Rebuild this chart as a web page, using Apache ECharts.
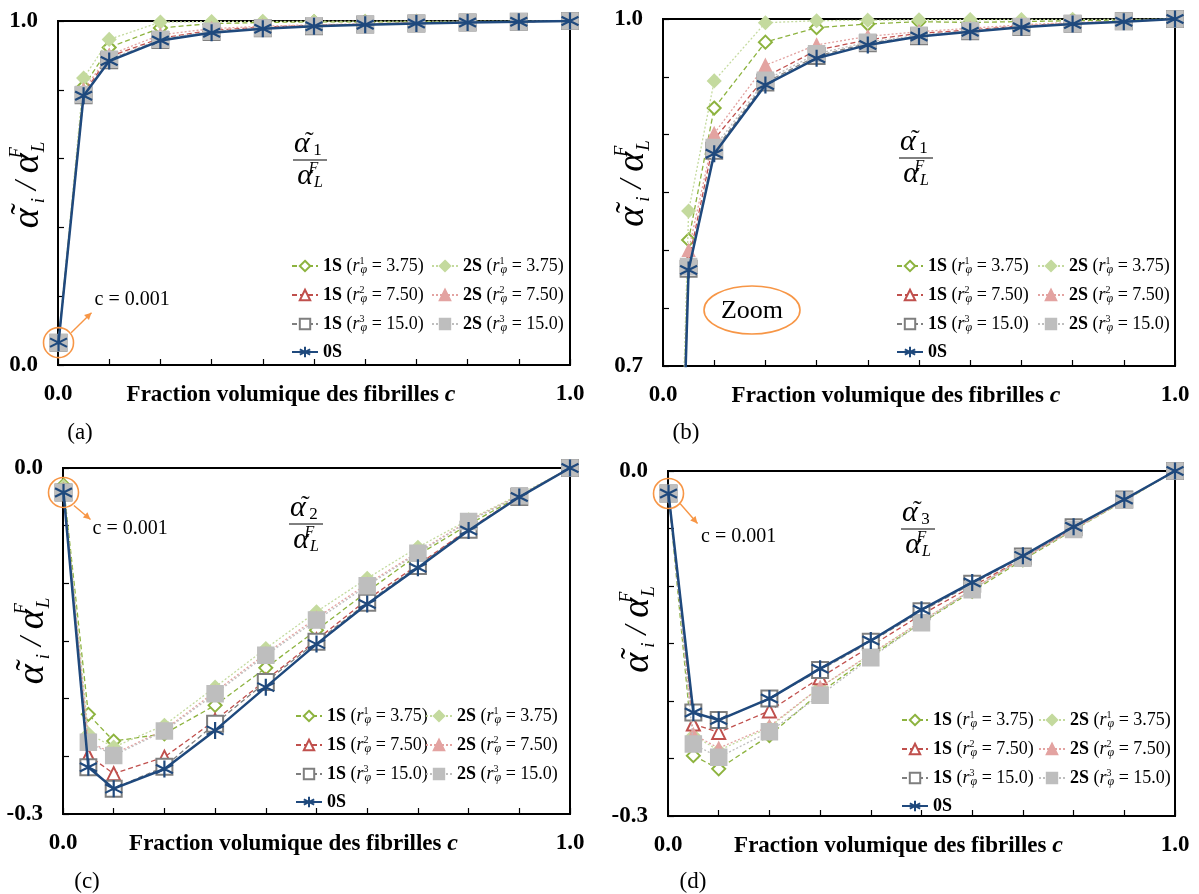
<!DOCTYPE html>
<html><head><meta charset="utf-8">
<script src="https://cdn.jsdelivr.net/npm/echarts@6/dist/echarts.min.js"></script>
<style>html,body{margin:0;padding:0;background:#fff}#c{width:1199px;height:894px}</style>
</head><body><div id="c"></div><script>
// ---------- data ----------
const cValues = [0.001, 0.05, 0.1, 0.2, 0.3, 0.4, 0.5, 0.6, 0.7, 0.8, 0.9, 1.0];
const seriesNames = ['1S r1', '2S r1', '1S r2', '2S r2', '1S r3', '2S r3', '0S'];
const legendLabels = [
  '{b|1S}{n| (}{i|r}{p|1}{s|φ}{n| = 3.75)}',
  '{b|2S}{n| (}{i|r}{p|1}{s|φ}{n| = 3.75)}',
  '{b|1S}{n| (}{i|r}{p|2}{s|φ}{n| = 7.50)}',
  '{b|2S}{n| (}{i|r}{p|2}{s|φ}{n| = 7.50)}',
  '{b|1S}{n| (}{i|r}{p|3}{s|φ}{n| = 15.0)}',
  '{b|2S}{n| (}{i|r}{p|3}{s|φ}{n| = 15.0)}',
  '{b|0S}'
];
const panelLetters = ['(a)', '(b)', '(c)', '(d)'];
const xTitle = 'Fraction volumique des fibrilles ';
const cAnnot = 'c = 0.001';

// alpha1 / alpha_L^F  (panels a and b)
const a1_1S_r1 = [0.068, 0.809, 0.923, 0.980, 0.9925, 0.9957, 0.9977, 0.9970, 0.9978, 0.9985, 0.9992, 1.0];
const a1_2S_r1 = [0.070, 0.834, 0.9465, 0.9968, 0.9985, 0.9990, 0.9993, 0.9995, 0.9996, 0.9997, 0.9998, 1.0];
const a1_1S_r2 = [0.066, 0.790, 0.896, 0.950, 0.973, 0.982, 0.9876, 0.9905, 0.994, 0.9963, 0.9978, 1.0];
const a1_2S_r2 = [0.067, 0.800, 0.901, 0.960, 0.9776, 0.985, 0.989, 0.992, 0.995, 0.997, 0.998, 1.0];
const a1_1S_r3 = [0.065, 0.784, 0.886, 0.945, 0.968, 0.979, 0.985, 0.9895, 0.993, 0.996, 0.998, 1.0];
const a1_2S_r3 = [0.065, 0.786, 0.889, 0.947, 0.970, 0.980, 0.986, 0.990, 0.9935, 0.996, 0.998, 1.0];
const a1_0S    = [0.065, 0.783, 0.8835, 0.943, 0.966, 0.9776, 0.9848, 0.989, 0.9928, 0.9957, 0.9977, 1.0];

// alpha2 / alpha_L^F  (panel c)
const a2_1S_r1 = [-0.015, -0.2136, -0.2368, -0.2304, -0.2058, -0.1733, -0.1406, -0.1072, -0.0754, -0.049, -0.0246, 0];
const a2_2S_r1 = [-0.016, -0.2304, -0.242, -0.223, -0.190, -0.1565, -0.1246, -0.0957, -0.0687, -0.0449, -0.0232, 0];
const a2_1S_r2 = [-0.020, -0.2493, -0.265, -0.2507, -0.2188, -0.184, -0.149, -0.114, -0.084, -0.053, -0.025, 0];
const a2_2S_r2 = [-0.019, -0.237, -0.248, -0.227, -0.194, -0.161, -0.130, -0.1005, -0.073, -0.0458, -0.0238, 0];
const a2_1S_r3 = [-0.0212, -0.2594, -0.278, -0.259, -0.2217, -0.1855, -0.1507, -0.1168, -0.085, -0.0536, -0.0252, 0];
const a2_2S_r3 = [-0.021, -0.2377, -0.2493, -0.228, -0.1957, -0.1623, -0.1319, -0.102, -0.0739, -0.0464, -0.0241, 0];
const a2_0S    = [-0.0212, -0.2594, -0.278, -0.261, -0.2275, -0.190, -0.1527, -0.118, -0.0864, -0.0542, -0.0252, 0];

// alpha3 / alpha_L^F  (panel d)
const a3_1S_r1 = [-0.0196, -0.2475, -0.259, -0.230, -0.1927, -0.161, -0.132, -0.1047, -0.0773, -0.0513, -0.026, 0];
const a3_2S_r1 = [-0.0196, -0.230, -0.243, -0.223, -0.188, -0.1595, -0.1307, -0.103, -0.0759, -0.0508, -0.0254, 0];
const a3_1S_r2 = [-0.0196, -0.220, -0.2273, -0.2086, -0.1797, -0.1523, -0.1249, -0.1004, -0.0759, -0.0499, -0.0254, 0];
const a3_2S_r2 = [-0.0196, -0.229, -0.241, -0.222, -0.188, -0.159, -0.1305, -0.103, -0.0759, -0.0508, -0.0254, 0];
const a3_1S_r3 = [-0.0196, -0.210, -0.2166, -0.1979, -0.173, -0.1485, -0.122, -0.098, -0.0744, -0.049, -0.0248, 0];
const a3_2S_r3 = [-0.0196, -0.2374, -0.249, -0.2267, -0.195, -0.1624, -0.132, -0.1033, -0.0759, -0.0508, -0.0254, 0];
const a3_0S    = [-0.0196, -0.210, -0.2166, -0.1979, -0.1719, -0.1474, -0.1206, -0.0969, -0.0738, -0.0485, -0.0248, 0];

// y-axis ranges per panel
const yMin = [0, 0.7, -0.3, -0.3];
const yMax = [1, 1, 0, 0];
const yStep = [0.2, 0.05, 0.05, 0.05];
const fracIndex = ['1', '1', '2', '3'];

const panelData = [
  [a1_1S_r1, a1_2S_r1, a1_1S_r2, a1_2S_r2, a1_1S_r3, a1_2S_r3, a1_0S],
  [a1_1S_r1, a1_2S_r1, a1_1S_r2, a1_2S_r2, a1_1S_r3, a1_2S_r3, a1_0S],
  [a2_1S_r1, a2_2S_r1, a2_1S_r2, a2_2S_r2, a2_1S_r3, a2_2S_r3, a2_0S],
  [a3_1S_r1, a3_2S_r1, a3_1S_r2, a3_2S_r2, a3_1S_r3, a3_2S_r3, a3_0S]
];

// ---------- styles / layout ----------
const SERIF = '"Liberation Serif", "Times New Roman", serif';
const grids = [
  {left: 58, top: 21, width: 512, height: 344},
  {left: 663, top: 19, width: 512, height: 347},
  {left: 63, top: 468, width: 507, height: 346},
  {left: 668, top: 471, width: 507, height: 345}
];
const yNameShift = [22, 24, 6, 34];
const ASTER = 'path://M10,0L10,20M1.34,5L18.66,15M1.34,15L18.66,5';
const sStyles = [
  {symbol: 'emptyDiamond', size: 13, color: '#8DB33F', type: [5, 3], width: 1.3},
  {symbol: 'diamond', size: 13, color: '#C4DA9E', type: [2, 2], width: 1.3},
  {symbol: 'emptyTriangle', size: 13, color: '#C0504D', type: [5, 3], width: 1.3},
  {symbol: 'triangle', size: 12, color: '#E3A3A1', type: [2, 2], width: 1.3},
  {symbol: 'emptyRect', size: 16, color: '#7F7F7F', type: [5, 3], width: 1.3},
  {symbol: 'rect', size: 16, color: '#BEBEBE', type: [2, 2], width: 1.3},
  {symbol: ASTER, size: 17, color: '#1F497D', type: 'solid', width: 2.5}
];

const isNear = (a, b) => Math.abs(a - b) < 1e-9;
const fmt1 = v => (Math.abs(v) < 1e-9 ? '0.0' : v.toFixed(1));

const yNameRich = {
  aw: {fontFamily: SERIF, fontStyle: 'italic', fontSize: 38, color: '#000', lineHeight: 40, width: 8},
  t: {fontFamily: SERIF, fontSize: 34, color: '#000', lineHeight: 34, verticalAlign: 'top', width: 11},
  a: {fontFamily: SERIF, fontStyle: 'italic', fontSize: 38, color: '#000', lineHeight: 40},
  n: {fontFamily: SERIF, fontStyle: 'italic', fontSize: 32, color: '#000', lineHeight: 40},
  s: {fontFamily: SERIF, fontStyle: 'italic', fontSize: 19, color: '#000', lineHeight: 19, verticalAlign: 'bottom'},
  p: {fontFamily: SERIF, fontStyle: 'italic', fontSize: 18, color: '#000', lineHeight: 18, verticalAlign: 'top', width: 1}
};

const xAxes = [], yAxes = [], series = [], legends = [];
for (let g = 0; g < 4; g++) {
  xAxes.push({
    type: 'value', gridIndex: g, min: 0, max: 1, interval: 0.1,
    axisLine: {show: true, onZero: false, lineStyle: {color: '#000', width: 2}},
    axisTick: {show: true, inside: true, length: 6, lineStyle: {color: '#000', width: 1.2}},
    splitLine: {show: false},
    axisLabel: {
      showMinLabel: true, showMaxLabel: true, margin: 18,
      formatter: v => (isNear(v, 0) || isNear(v, 1)) ? fmt1(v) : '',
      fontFamily: SERIF, fontWeight: 'bold', fontSize: 23, color: '#000'
    },
    name: '{t|' + xTitle + '}{c|c}', nameLocation: 'middle', nameGap: 18, nameMoveOverlap: false,
    nameTextStyle: {
      padding: [0, 46, 0, 0],
      rich: {
        t: {fontFamily: SERIF, fontWeight: 'bold', fontSize: 23, color: '#000'},
        c: {fontFamily: SERIF, fontWeight: 'bold', fontStyle: 'italic', fontSize: 24, color: '#000'}
      }
    }
  });
  yAxes.push({
    type: 'value', gridIndex: g, min: yMin[g], max: yMax[g], interval: yStep[g],
    axisLine: {show: true, onZero: false, lineStyle: {color: '#000', width: 2}},
    axisTick: {show: true, inside: true, length: 6, lineStyle: {color: '#000', width: 1.2}},
    splitLine: {show: false},
    axisLabel: {
      showMinLabel: true, showMaxLabel: true, margin: 20,
      formatter: v => (isNear(v, yMin[g]) || isNear(v, yMax[g])) ? fmt1(v) : '',
      fontFamily: SERIF, fontWeight: 'bold', fontSize: 23, color: '#000'
    },
    name: '{aw|α}{t|˜}{s|i}{n| / }{a|α}{p|F}{s|L}', nameLocation: 'middle', nameRotate: 90,
    nameGap: 10, nameMoveOverlap: false,
    nameTextStyle: {padding: [0, 0, 0, yNameShift[g]], rich: yNameRich}
  });
  for (let k = 0; k < 7; k++) {
    const st = sStyles[k];
    const vals = panelData[g][k];
    series.push({
      type: 'line', name: seriesNames[k], xAxisIndex: g, yAxisIndex: g,
      data: cValues.map((c, i) => [c, vals[i]]),
      symbol: st.symbol, symbolSize: st.size, showSymbol: true, showAllSymbol: true,
      lineStyle: {color: st.color, width: st.width, type: st.type},
      itemStyle: {color: st.color, borderColor: st.color, borderWidth: k === 6 ? 2.2 : 1.5},
      z: 2 + k, animation: false, clip: true
    });
  }
}

const legendRich = {
  b: {fontFamily: SERIF, fontWeight: 'bold', fontSize: 18, color: '#000', lineHeight: 20},
  n: {fontFamily: SERIF, fontSize: 18, color: '#000', lineHeight: 20},
  i: {fontFamily: SERIF, fontStyle: 'italic', fontSize: 18, color: '#000', lineHeight: 20},
  p: {fontFamily: SERIF, fontSize: 10, color: '#000', lineHeight: 10, verticalAlign: 'top', width: 1},
  s: {fontFamily: SERIF, fontStyle: 'italic', fontSize: 12, color: '#000', lineHeight: 12, verticalAlign: 'bottom'}
};
const legendPos = [
  [[291, 256], [431, 256]],
  [[896, 256], [1037, 256]],
  [[295, 706], [425, 706]],
  [[901, 710], [1038, 710]]
];
for (let g = 0; g < 4; g++) {
  [[0, 2, 4, 6], [1, 3, 5]].forEach((idx, col) => {
    legends.push({
      orient: 'vertical', left: legendPos[g][col][0], top: legendPos[g][col][1],
      padding: 0, itemGap: 9, itemWidth: 26, itemHeight: 13, selectedMode: false,
      data: idx.map(k => seriesNames[k]),
      formatter: name => legendLabels[seriesNames.indexOf(name)],
      textStyle: {rich: legendRich}
    });
  });
}

const chart = echarts.init(document.getElementById('c'), null, {renderer: 'canvas'});
chart.setOption({
  backgroundColor: '#fff', animation: false,
  grid: grids.map(g => Object.assign({show: true, borderColor: '#000', borderWidth: 2, backgroundColor: 'transparent', containLabel: false, outerBoundsMode: 'none'}, g)),
  xAxis: xAxes, yAxis: yAxes, series: series, legend: legends
});

// ---------- annotations ----------
const graphics = [];
const fracPos = [[310, 160], [916, 158], [306, 524], [918, 529]];
const fracRich = {
  aw: {fontFamily: SERIF, fontStyle: 'italic', fontSize: 30, fill: '#000', lineHeight: 30, width: 7},
  t: {fontFamily: SERIF, fontSize: 26, fill: '#000', lineHeight: 26, verticalAlign: 'top', width: 8},
  a: {fontFamily: SERIF, fontStyle: 'italic', fontSize: 30, fill: '#000', lineHeight: 30},
  o: {fontFamily: SERIF, fontSize: 17, fill: '#000', lineHeight: 14, verticalAlign: 'bottom'},
  s: {fontFamily: SERIF, fontStyle: 'italic', fontSize: 16, fill: '#000', lineHeight: 14, verticalAlign: 'bottom'},
  p: {fontFamily: SERIF, fontStyle: 'italic', fontSize: 16, fill: '#000', lineHeight: 14, verticalAlign: 'top', width: 1}
};
for (let g = 0; g < 4; g++) {
  const [cx, ly] = fracPos[g];
  graphics.push({type: 'text', z: 100, style: {text: '{aw|α}{t|˜}{o|' + fracIndex[g] + '}', x: cx, y: ly - 1, align: 'center', verticalAlign: 'bottom', rich: fracRich}});
  graphics.push({type: 'line', z: 100, shape: {x1: cx - 17, y1: ly, x2: cx + 17, y2: ly}, style: {stroke: '#000', lineWidth: 1}});
  graphics.push({type: 'text', z: 100, style: {text: '{a|α}{p|F}{s|L}', x: cx, y: ly + 1, align: 'center', verticalAlign: 'top', rich: fracRich}});
}
const letterPos = [[80, 433], [686, 433], [87, 882], [693, 882]];
letterPos.forEach((p, i) => graphics.push({type: 'text', z: 100, style: {text: panelLetters[i], x: p[0], y: p[1], align: 'center', verticalAlign: 'middle', font: '23px ' + SERIF, fill: '#000'}}));

// c = 0.001 markers (a, c, d)
const ORANGE = '#F79646';
const annot = [
  {g: 0, a1: [12.6, -10], a2: [33, -30], t: [36, -43]},
  {g: 2, a1: [10.4, 13], a2: [27, 27], t: [29, 36]},
  {g: 3, a1: [11.5, 10], a2: [29, 30], t: [32.6, 43]}
];
annot.forEach(an => {
  const p = chart.convertToPixel({gridIndex: an.g}, [cValues[0], panelData[an.g][6][0]]);
  graphics.push({type: 'circle', z: 100, shape: {cx: p[0], cy: p[1], r: 15}, style: {fill: 'none', stroke: ORANGE, lineWidth: 1.6}});
  const x1 = p[0] + an.a1[0], y1 = p[1] + an.a1[1], x2 = p[0] + an.a2[0], y2 = p[1] + an.a2[1];
  graphics.push({type: 'line', z: 100, shape: {x1, y1, x2, y2}, style: {stroke: ORANGE, lineWidth: 1.4}});
  const ang = Math.atan2(y2 - y1, x2 - x1), L = 7, W = 3.5;
  const bx = x2 - L * Math.cos(ang), by = y2 - L * Math.sin(ang);
  graphics.push({type: 'polygon', z: 100, shape: {points: [[x2, y2], [bx - W * Math.sin(ang), by + W * Math.cos(ang)], [bx + W * Math.sin(ang), by - W * Math.cos(ang)]]}, style: {fill: ORANGE}});
  graphics.push({type: 'text', z: 100, style: {text: cAnnot, x: p[0] + an.t[0], y: p[1] + an.t[1], align: 'left', verticalAlign: 'middle', font: '20px ' + SERIF, fill: '#000'}});
});
// Zoom ellipse (b)
graphics.push({type: 'ellipse', z: 100, shape: {cx: 752, cy: 310, rx: 48, ry: 24}, style: {fill: 'none', stroke: ORANGE, lineWidth: 1.6}});
graphics.push({type: 'text', z: 100, style: {text: 'Zoom', x: 752, y: 311, align: 'center', verticalAlign: 'middle', font: '26px ' + SERIF, fill: '#000'}});

chart.setOption({graphic: graphics});
</script></body></html>
